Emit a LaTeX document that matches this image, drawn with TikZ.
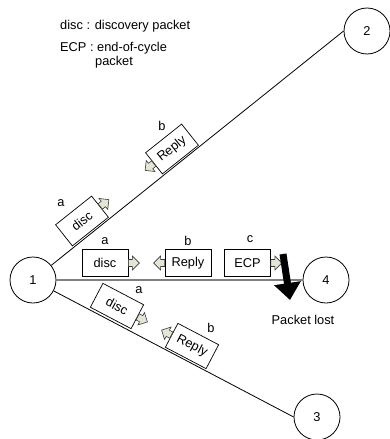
\documentclass[tikz,border=0pt]{standalone}
\usepackage{fontspec}
\setmainfont{Liberation Sans}
\usetikzlibrary{arrows.meta,calc}
\definecolor{arrfill}{HTML}{E2E6D2}
\definecolor{arrline}{HTML}{3A3A3A}
\begin{document}
\begin{tikzpicture}[x=1pt,y=-1pt,font=\fontsize{12.8}{14}\selectfont,
  station/.style={circle,draw,line width=0.8pt,minimum size=46pt,inner sep=0pt},
  pkt/.style={draw,line width=0.7pt,minimum width=46pt,minimum height=27pt,inner sep=0pt},
  lbl/.style={inner sep=0pt},
  link/.style={line width=0.8pt},
  barrow/.pic={\draw[fill=arrfill,draw=arrline,line width=0.6pt,line join=miter]
     (0,-3.5) -- (4,-3.5) -- (4,-7) -- (11,0) -- (4,7) -- (4,3.5) -- (0,3.5) -- cycle;}
]
\useasboundingbox (0,0) rectangle (389,439);
% legend
\node[lbl,anchor=base west] (leg1) at (60,29) {disc : discovery packet};
\node[lbl,anchor=base west] (leg2) at (60,51) {ECP : end-of-cycle};
\node[lbl,anchor=base west] (leg3) at (95,65) {packet};
% stations
\node[station] (n1) at (33,280) {1};
\node[station] (n2) at (367,31) {2};
\node[station] (n3) at (317,417) {3};
\node[station] (n4) at (326,280) {4};
% links
\draw[link] (n1) -- (n2.west);
\draw[link] (n1) -- (n3.west);
\draw[line width=1.6pt,gray] (n1.east) -- (n4.west);
% horizontal packets
\node[pkt] (hd) at (105,263) {disc};
\node[pkt] (hr) at (188,263) {Reply};
\node[pkt] (he) at (247.5,263) {ECP};
\node[lbl] (la1) at (105,241) {a};
\node[lbl] (lb1) at (188,241) {b};
\node[lbl] (lc1) at (250,239) {c};
\pic at (hd.east) {barrow};
\pic[rotate=180] at (hr.west) {barrow};
\pic at (he.east) {barrow};
% packets on link 1-2
\node[pkt,rotate=38.5] (d12) at (82,221) {disc};
\node[pkt,rotate=38.5] (r12) at (172,149) {Reply};
\node[lbl] (la2) at (61,203) {a};
\node[lbl] (lb2) at (162,126) {b};
\pic[rotate=38.5] at (d12.east) {barrow};
\pic[rotate=218.5] at (r12.west) {barrow};
% packets on link 1-3
\node[pkt,rotate=-27.7] (d13) at (117,306) {disc};
\node[pkt,rotate=-27.7] (r13) at (192,346) {Reply};
\node[lbl] (la3) at (139,290) {a};
\node[lbl] (lb3) at (211,328) {b};
\pic[rotate=-27.7] at (d13.east) {barrow};
\pic[rotate=152.3] at (r13.west) {barrow};
% packet lost
\coordinate (lostA) at (283,254);
\coordinate (lostB) at (290,300);
\draw[line width=7pt,-{Triangle[length=17pt,width=26pt]}] (lostA) -- (lostB);
\node[lbl,anchor=base] (lost) at (303,324) {Packet lost};
\end{tikzpicture}
\end{document}
